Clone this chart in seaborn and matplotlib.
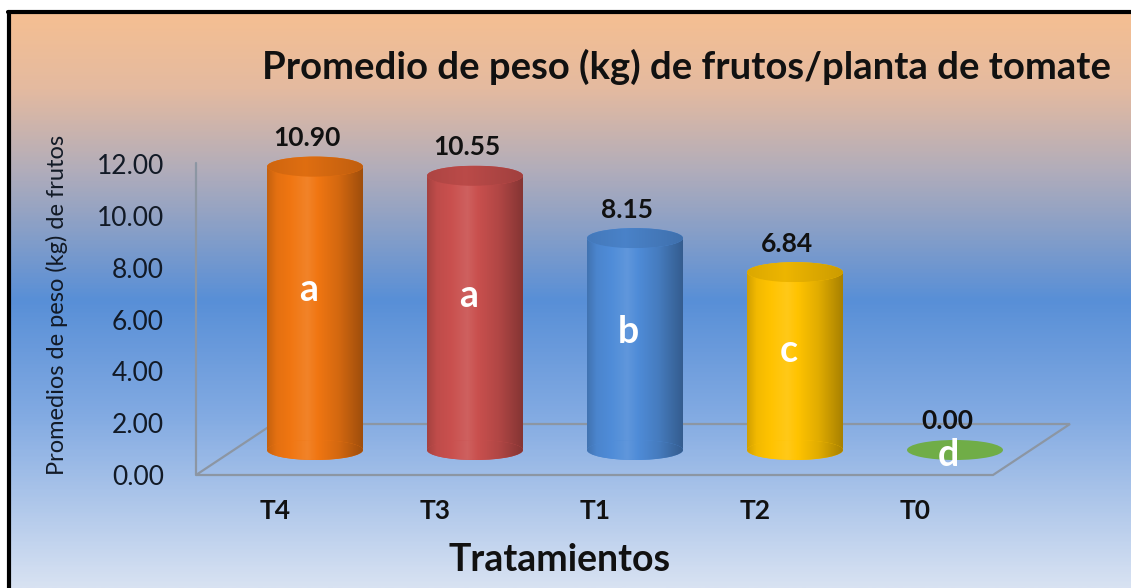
import numpy as np
import pandas as pd
import matplotlib
matplotlib.use("Agg")
import matplotlib.pyplot as plt
import matplotlib.colors as mcolors
from matplotlib.patches import Ellipse, Polygon
import seaborn as sns

# data
treatments = ["T4", "T3", "T1", "T2", "T0"]
weights = [10.90, 10.55, 8.15, 6.84, 0.00]
groups = ["a", "a", "b", "c", "d"]
bar_colors = ["#F07612", "#C9504E", "#4F8CD8", "#FFC300", "#70AD47"]
yticks = [0, 2, 4, 6, 8, 10, 12]

df = pd.DataFrame({"tratamiento": treatments, "peso": weights})

sns.set_style("white")
plt.rcParams["font.family"] = ["Lato", "DejaVu Sans"]

W, H = 1131, 588
fig = plt.figure(figsize=(W / 100, H / 100), dpi=100)


def px(x0, y0, w, h):
    # pixel box (top-left origin) -> figure fraction
    return [x0 / W, 1 - (y0 + h) / H, w / W, h / H]


# background gradient + frame, in pixel coordinates
bg = fig.add_axes([0, 0, 1, 1], zorder=0)
bg.set_xlim(0, W)
bg.set_ylim(H, 0)
bg.axis("off")
stops = [(0.0, (245, 191, 146)), (0.13, (228, 186, 160)), (0.27, (178, 173, 186)),
         (0.5, (88, 143, 215)), (0.7, (130, 170, 226)), (1.0, (216, 226, 242))]
cmap = mcolors.LinearSegmentedColormap.from_list(
    "bg", [(s, np.array(c) / 255) for s, c in stops])
grad = np.linspace(0, 1, 400)[:, None]
bg.imshow(grad, cmap=cmap, extent=[9, W, H, 13], aspect="auto", zorder=0)
bg.plot([9, 9], [12, H], color="black", lw=3, zorder=1)
bg.plot([8, W], [12, 12], color="black", lw=3, zorder=1)

# 3D floor and wall edge
grid_c = (0.55, 0.59, 0.64)
bg.add_patch(Polygon([(196, 475), (993, 475), (1070, 424), (273, 424)],
                     closed=True, fill=False, edgecolor=grid_c, lw=1.6, zorder=2))
bg.plot([196, 196], [163, 475], color=grid_c, lw=1.6, zorder=2)

# axis with the tick labels
ax = fig.add_axes(px(196, 164, 874, 311), zorder=1)
ax.patch.set_alpha(0)
ax.set_ylim(0, 12)
ax.set_xlim((196 - 275) / 160, (1070 - 275) / 160)
ax.set_yticks(yticks)
ax.set_yticklabels([f"{t:.2f}" for t in yticks], fontsize=19, color="#121a26")
ax.set_xticks(range(len(treatments)))
ax.set_xticklabels(treatments, fontsize=19, fontweight="bold", color="#111111")
ax.tick_params(axis="y", length=0, pad=23)
ax.tick_params(axis="x", length=0, pad=17)
for s in ax.spines.values():
    s.set_visible(False)

# axis for the cylinders (shifted back into the depth of the floor)
bax = fig.add_axes(px(236, 138, 874, 338), zorder=2)
bax.patch.set_alpha(0)
sns.barplot(data=df, x="tratamiento", y="peso", hue="tratamiento", order=treatments,
            palette=bar_colors, width=0.6, errorbar=None, legend=False, ax=bax)
xl = ax.get_xlim()


def shaded(color, prof):
    c = np.array(mcolors.to_rgb(color))
    out = []
    for f in prof:
        if f <= 1:
            out.append(c * f)
        else:
            out.append(c + (1 - c) * (f - 1) * 1.6)
    return np.clip(np.array(out), 0, 1)[None, :, :]


u = np.linspace(0, 1, 200)
side = np.interp(u, [0, 0.1, 0.42, 0.75, 1], [0.82, 0.95, 1.06, 0.88, 0.66])
top = np.interp(u, [0, 0.4, 1], [0.86, 0.93, 0.8])
ry = 10 / 26.0

for p, col, v, g in zip(bax.patches, bar_colors, weights, groups):
    x0, w, h = p.get_x(), p.get_width(), p.get_height()
    cx = x0 + w / 2
    p.set_edgecolor("none")
    side_img = shaded(col, side)
    im = bax.imshow(side_img, extent=[x0, x0 + w, 0, max(h, 0.01)], aspect="auto", zorder=3)
    im.set_clip_path(p)
    bot = Ellipse((cx, 0), w, 2 * ry, facecolor=col, edgecolor="none", zorder=3)
    bax.add_patch(bot)
    if h > 0:
        im2 = bax.imshow(side_img, extent=[x0, x0 + w, -ry, ry], aspect="auto", zorder=3)
        im2.set_clip_path(bot)
        topell = Ellipse((cx, h), w, 2 * ry, facecolor=col, edgecolor="none", zorder=4)
        bax.add_patch(topell)
        im3 = bax.imshow(shaded(col, top), extent=[x0, x0 + w, h - ry, h + ry],
                         aspect="auto", zorder=4)
        im3.set_clip_path(topell)
    bax.text(cx - 0.05, h + 1.1, f"{v:.2f}", ha="center", va="center",
             fontsize=19, fontweight="bold", color="#111111", zorder=6)
    bax.text(cx - 0.04, 0.58 * h - 0.6, g, ha="center", va="baseline",
             fontsize=27, fontweight="bold", color="white", zorder=6)

bax.set_xlim(xl)
bax.set_ylim(-1, 12)
bax.axis("off")

fig.text(686 / W, 1 - 67 / H, "Promedio de peso (kg) de frutos/planta de tomate",
         ha="center", va="center", fontsize=27.5, fontweight="bold", color="#111111")
fig.text(57 / W, 1 - 305 / H, "Promedios de peso (kg) de frutos", rotation=90,
         ha="center", va="center", fontsize=17, color="#121a26")
fig.text(560 / W, 1 - 560 / H, "Tratamientos", ha="center", va="center",
         fontsize=27, fontweight="bold", color="#111111")

fig.savefig("out.png", dpi=100)
